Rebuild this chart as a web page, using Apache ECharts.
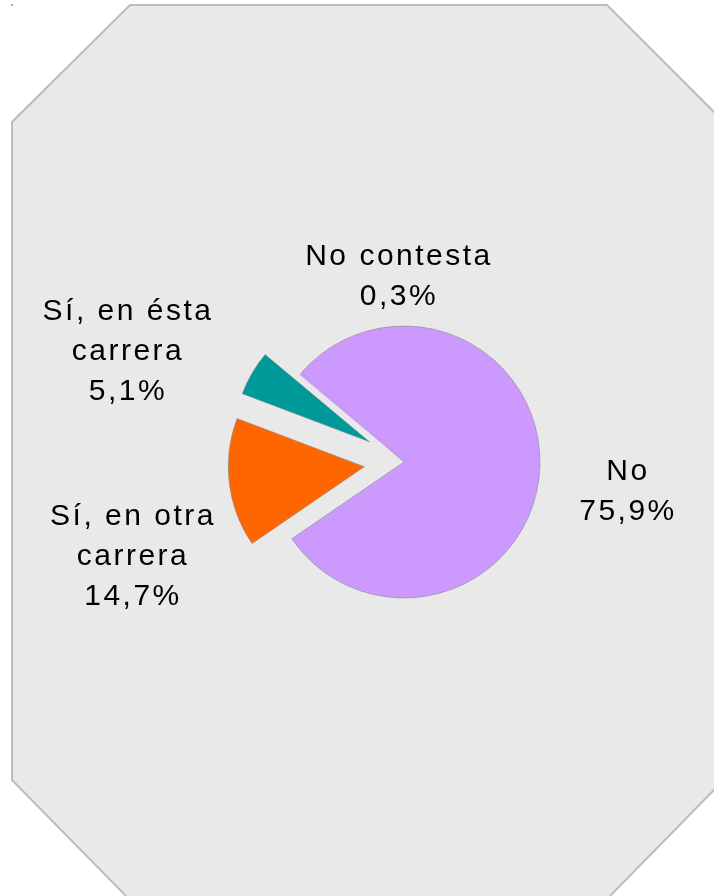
<!DOCTYPE html>
<html>
<head>
<meta charset="utf-8">
<script src="https://cdn.jsdelivr.net/npm/echarts@6/dist/echarts.min.js"></script>
<style>
  html, body { margin: 0; padding: 0; background: #fff; }
  #Pie { width: 714px; height: 896px; }
</style>
</head>
<body>
<div id="Pie"></div>
<script>
// datos de la encuesta
var categories = ['No', 'Sí, en otra carrera', 'Sí, en ésta carrera', 'No contesta'];
var percentages = [75.9, 14.7, 5.1, 0.3];
var labelNames = ['No', 'Sí, en otra\ncarrera', 'Sí, en ésta\ncarrera', 'No contesta'];
var exploded = [false, true, true, false];

var colors = ['#cc99ff', '#ff6600', '#009999', '#cc99ff'];
// centro de cada etiqueta
var labelPos = [[628, 492], [133, 557], [128, 352], [399, 277]];

// el texto original tiene algo de espacio entre letras
var _fillText = CanvasRenderingContext2D.prototype.fillText;
CanvasRenderingContext2D.prototype.fillText = function (t, x, y, w) {
  var old = this.letterSpacing;
  this.letterSpacing = '2.5px';
  _fillText.call(this, t, x, y, w);
  this.letterSpacing = old;
};

function pct(v) {
  return v.toFixed(1).replace('.', ',') + '%';
}

// etiquetas
var labels = categories.map(function (c, i) {
  return {
    type: 'text',
    z: 10,
    x: labelPos[i][0],
    y: labelPos[i][1],
    style: {
      text: labelNames[i] + '\n' + pct(percentages[i]),
      fill: '#000',
      font: '30px "Liberation Sans"',
      lineHeight: 40,
      align: 'center',
      verticalAlign: 'middle'
    }
  };
});

var Echarts = echarts.init(document.getElementById('Pie'));
Echarts.setOption({
  animation: false,

  // fondo octogonal
  graphic: [
    {
      type: 'polygon',
      z: -10,
      shape: {
        points: [[130, 5], [607, 5], [716, 114], [716, 788], [608, 898], [128, 898], [12, 780], [12, 122]]
      },
      style: { fill: '#e9e9e9', stroke: '#bcbcbc', lineWidth: 2 }
    },
    {
      type: 'rect',
      z: -10,
      shape: { x: 11, y: 4, width: 2, height: 2 },
      style: { fill: '#b0b0b0' }
    }
  ].concat(labels),

  series: [
    {
      type: 'pie',
      center: [404, 462],
      radius: 136,
      startAngle: 139,
      clockwise: true,
      selectedMode: 'multiple',
      selectedOffset: 40,
      emphasis: { disabled: true },
      itemStyle: { borderColor: '#8c8c8c', borderWidth: 0.6 },
      select: { itemStyle: { borderColor: '#8c8c8c', borderWidth: 0.6 } },
      label: { show: false },
      labelLine: { show: false },
      data: categories.map(function (c, i) {
        return {
          name: c,
          value: percentages[i],
          selected: exploded[i],
          itemStyle: { color: colors[i], borderWidth: i === 3 ? 0 : 0.6 }
        };
      })
    }
  ]
});
</script>
</body>
</html>
